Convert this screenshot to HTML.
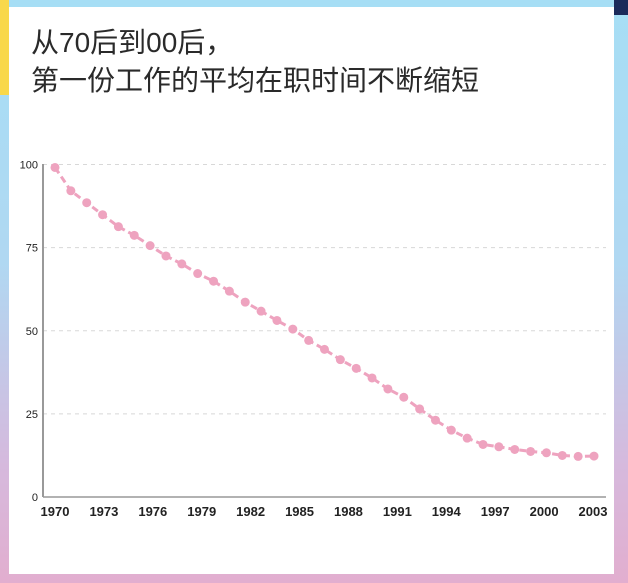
<!DOCTYPE html>
<html><head><meta charset="utf-8"><style>
body{margin:0;width:628px;height:583px;overflow:hidden;font-family:"Liberation Sans","Noto Sans CJK SC",sans-serif;}
#frame{position:absolute;left:0;top:0;width:628px;height:583px;background:linear-gradient(#a6def5 0%,#b0d8f2 45%,#d6b9dd 80%,#e2aecf 100%);}
#inner{position:absolute;left:9px;top:7px;width:605px;height:567px;background:#fff;}
#yellow{position:absolute;left:0;top:0;width:9px;height:95px;background:#f9d84a;}
#navy{position:absolute;left:614px;top:0;width:14px;height:15px;background:#1b2a5a;}
#title{position:absolute;left:31px;top:24px;font-size:28px;line-height:38px;color:#2a2a2a;font-family:"Liberation Sans","Noto Sans CJK SC",sans-serif;}
svg{position:absolute;left:0;top:0;}
</style></head><body>
<div id="frame"></div>
<div id="inner"></div>
<div id="yellow"></div>
<div id="navy"></div>
<div id="title">从70后到00后，<br>第一份工作的平均在职时间不断缩短</div>
<svg id="chart" width="628" height="583"></svg>
<script>
const values=[99.1,92.1,88.5,84.9,81.3,78.7,75.6,72.5,70.1,67.2,64.9,61.9,58.6,55.9,53.1,50.5,47.1,44.4,41.3,38.7,35.8,32.5,30.0,26.5,23.1,20.1,17.7,15.8,15.1,14.3,13.7,13.3,12.5,12.2,12.3];
const yTicks=[0,25,50,75,100];
const xTickLabels=[1970,1973,1976,1979,1982,1985,1988,1991,1994,1997,2000,2003];
const NS="http://www.w3.org/2000/svg";
const svg=document.getElementById('chart');
function y(v){return 497-v*3.325;}
function xi(i){return 55+i*(539/(values.length-1));}
function xy(yr){return 55+(yr-1970)*(538/33);}
function mk(t,a){const e=document.createElementNS(NS,t);for(const k in a)e.setAttribute(k,a[k]);svg.appendChild(e);return e;}
yTicks.forEach(v=>{
  if(v>0){const g=mk('line',{x1:43,x2:606,y1:y(v),y2:y(v),stroke:'#d8d8d8','stroke-width':1,'stroke-dasharray':'4,4'});
  
  }
  const t=mk('text',{x:38,y:y(v)+4,'text-anchor':'end','font-size':11,fill:'#222'});
  t.textContent=v;
  
  
});
const ya=mk('line',{x1:43,x2:43,y1:164,y2:497,stroke:'#999','stroke-width':2});


const xa=mk('line',{x1:43,x2:606,y1:497,y2:497,stroke:'#999','stroke-width':1.5});


xTickLabels.forEach(yr=>{
  const t=mk('text',{x:xy(yr),y:516,'text-anchor':'middle','font-size':13,'font-weight':'bold',fill:'#222'});
  t.textContent=yr;
  
  
});
const line=mk('polyline',{points:values.map((v,i)=>xi(i)+','+y(v)).join(' '),fill:'none',stroke:'#eea3bf','stroke-width':3,'stroke-dasharray':'7,4'});


values.forEach((v,i)=>{
  const c=mk('circle',{cx:xi(i),cy:y(v),r:4.5,fill:'#eea3bf'});
  
  
});
</script>
</body></html>
